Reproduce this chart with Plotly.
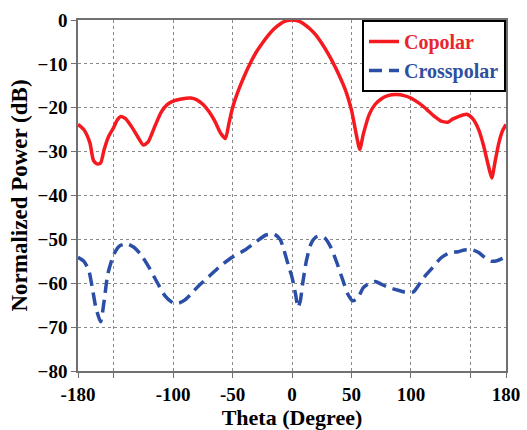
import plotly.graph_objects as go

# Copolar pattern (theta in degrees, normalized power in dB)
co_theta = [-180, -175, -170, -167, -164, -161, -158, -154, -150, -147, -144, -140,
            -135, -130, -125, -121, -115, -110, -105, -100, -93, -85, -80, -75, -70,
            -65, -60, -56, -53, -50, -45, -40, -35, -30, -25, -20, -15, -10, -5, 0,
            5, 10, 15, 20, 25, 30, 35, 40, 45, 50, 54, 57, 60, 65, 70, 75, 80, 88,
            95, 100, 105, 110, 115, 120, 125, 131, 135, 140, 147, 152, 157, 161, 165,
            168, 171, 174, 177, 180]
co_db = [-23.8, -25.0, -28.0, -32.0, -32.8, -32.6, -29.5, -26.4, -24.5, -22.8, -22.0, -22.5,
         -24.3, -26.5, -28.5, -27.8, -24.0, -21.0, -19.3, -18.5, -18.0, -17.8, -18.2, -19.2, -20.8,
         -23.0, -25.8, -27.0, -23.5, -20.0, -16.0, -12.7, -9.8, -7.3, -5.3, -3.5, -2.0, -0.9, -0.2, 0.0,
         -0.2, -0.9, -2.0, -3.4, -5.3, -7.5, -10.0, -12.8, -16.0, -20.5, -26.0, -29.5, -26.0, -21.5, -19.2, -18.0, -17.3, -17.0,
         -17.3, -17.8, -18.6, -19.6, -20.8, -22.0, -23.0, -23.3, -22.6, -22.0, -21.5, -22.5, -25.0, -28.5, -33.0,
         -36.0, -32.0, -28.0, -25.3, -23.8]

# Crosspolar pattern
cx_theta = [-180, -175, -171, -168, -165, -161, -158, -155, -150, -145, -139, -133, -127,
            -120, -113, -107, -100, -95, -90, -85, -80, -70, -60, -50, -40, -30, -22,
            -15, -10, -7, -3, 0, 3, 5, 7, 9, 12, 16, 20, 24, 28, 33, 38, 43, 47, 51,
            55, 60, 65, 70, 75, 80, 88, 95, 102, 110, 118, 125, 133, 140, 145, 152,
            157, 163, 168, 173, 180]
cx_db = [-54.1, -55.0, -57.0, -61.0, -65.5, -68.8, -64.0, -58.0, -53.5, -51.5, -51.0, -51.8, -53.5,
         -56.5, -60.0, -62.8, -64.5, -64.5, -63.8, -62.5, -61.0, -58.5, -56.0, -54.0, -52.5, -50.5, -49.0,
         -48.8, -50.0, -52.2, -56.0, -58.6, -62.5, -65.5, -64.0, -60.0, -55.0, -51.0, -49.5, -49.2, -49.8, -52.0, -55.5, -59.5, -62.5, -64.0,
         -63.5, -61.0, -60.0, -59.6, -60.2, -60.8, -61.5, -62.0, -62.0, -59.0, -56.5, -54.3, -53.0, -52.8, -52.4, -52.4,
         -53.0, -54.3, -55.0, -54.8, -54.0]

x_tickvals = [-180, -150, -100, -50, 0, 50, 100, 150, 180]
x_ticktext = ["-180", "", "-100", "-50", "0", "50", "100", "", "180"]
y_tickvals = [0, -10, -20, -30, -40, -50, -60, -70, -80]

SERIF = "Liberation Serif"

fig = go.Figure()
fig.add_trace(go.Scatter(
    x=co_theta, y=co_db, mode="lines",
    name="<span style='color:#e8262c'>Copolar</span>",
    line=dict(color="#f41a20", width=3.5, shape="spline", smoothing=0.6),
))
fig.add_trace(go.Scatter(
    x=cx_theta, y=cx_db, mode="lines",
    name="<span style='color:#2f4f9f'>Crosspolar</span>",
    line=dict(color="#2b4ea6", width=3.5, dash="13px,7px", shape="spline", smoothing=0.6),
))

axis_common = dict(
    showline=True, linecolor="#707070", linewidth=1.5, mirror=True,
    showgrid=True, gridcolor="#8a8a8a", gridwidth=1, griddash="dot",
    ticks="outside", ticklen=5, tickcolor="#707070",
    tickfont=dict(family=SERIF, size=19, color="black", weight="bold"),
    zeroline=False, automargin=False,
)

fig.update_layout(
    width=527, height=430,
    margin=dict(l=78, r=21, t=20, b=59, autoexpand=False),
    paper_bgcolor="white", plot_bgcolor="white",
    showlegend=True,
    legend=dict(
        x=1.0, y=1.0, xanchor="right", yanchor="top",
        bgcolor="white", bordercolor="black", borderwidth=2,
        font=dict(family=SERIF, size=20, weight="bold"),
        tracegroupgap=0, itemwidth=30,
    ),
    xaxis=dict(
        range=[-180, 180], tickvals=x_tickvals, ticktext=x_ticktext,
        title=dict(text="Theta (Degree)", standoff=2,
                   font=dict(family=SERIF, size=22, color="black", weight="bold")),
        **axis_common,
    ),
    yaxis=dict(
        range=[-80, 0], tickvals=y_tickvals,
        title=dict(text="Normalized Power (dB)", standoff=4,
                   font=dict(family=SERIF, size=23, color="black", weight="bold")),
        **axis_common,
    ),
)

fig.write_html("out.html")
